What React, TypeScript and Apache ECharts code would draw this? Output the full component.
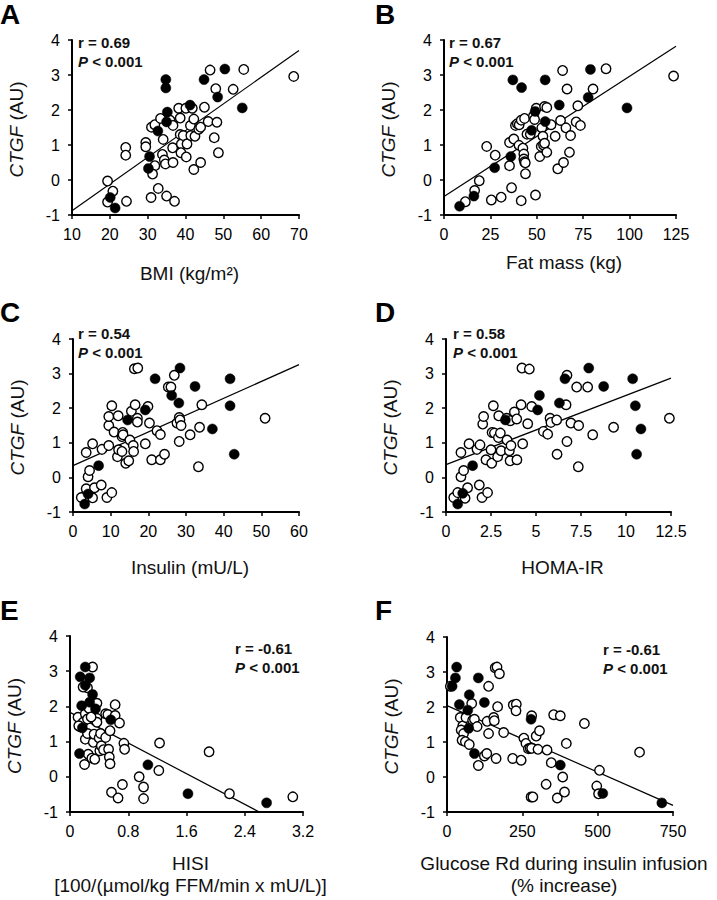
import React, { useEffect, useRef } from 'react';
import * as echarts from 'echarts';

const FONT = '"Liberation Sans", Arial, Helvetica, sans-serif';

// ---------- Panel A: BMI ----------
const bmiFilled = [[34.8,2.87],[34.8,2.63],[44.9,2.87],[50.4,3.17],[48.5,2.37],[41.2,2.14],[55.0,2.06],[35.2,1.94],[35.0,1.66],[32.7,1.40],[30.5,0.67],[30.2,0.33],[20.1,-0.50],[21.4,-0.80]];
const bmiOpen = [[19.4,-0.03],[19.4,-0.63],[20.8,-0.32],[24.2,0.93],[24.2,0.71],[24.4,-0.61],[29.5,1.07],[29.5,0.95],[31.0,1.51],[31.9,1.58],[31.9,0.41],[31.3,0.17],[30.9,-0.50],[32.8,-0.24],[33.4,1.76],[34.1,1.16],[33.9,0.73],[34.4,0.57],[34.7,0.46],[35.0,-0.46],[35.9,1.71],[36.7,1.56],[36.6,0.92],[36.7,0.50],[37.1,-0.61],[38.2,2.05],[38.6,1.77],[38.6,1.30],[38.9,1.03],[38.8,0.78],[39.4,1.27],[40.1,2.05],[40.2,0.66],[40.4,1.03],[41.3,1.56],[41.8,2.05],[41.4,1.27],[42.2,1.74],[42.5,1.25],[42.2,0.30],[43.5,1.45],[44.0,1.51],[44.0,0.50],[45.0,2.08],[46.0,1.67],[46.5,3.14],[47.6,1.21],[48.0,2.61],[48.3,1.65],[48.7,0.78],[52.6,2.59],[55.4,3.16],[68.6,2.96]];
const bmiFit = [[10,-0.88],[70,3.70]];

// ---------- Panel B: Fat mass ----------
const fatFilled = [[37.1,2.86],[41.8,2.64],[54.5,2.86],[78.9,3.16],[77.7,2.36],[62.1,2.14],[98.6,2.06],[49.1,1.96],[54.5,1.67],[47.2,1.42],[36.0,0.67],[27.3,0.35],[16.1,-0.46],[8.4,-0.75]];
const fatOpen = [[11.5,-0.62],[16.5,-0.30],[19.0,-0.02],[23.0,0.96],[27.6,0.71],[25.5,-0.57],[30.8,-0.49],[35.3,0.41],[35.3,1.07],[36.4,-0.22],[37.6,1.17],[38.5,1.56],[39.5,1.61],[40.5,1.58],[40.4,0.99],[41.6,1.71],[41.6,-0.59],[42.5,0.91],[43.0,0.74],[43.0,0.60],[43.4,0.52],[43.8,0.49],[43.9,0.18],[43.4,1.76],[44.7,1.31],[46.5,1.31],[48.2,1.83],[48.8,1.73],[49.7,2.05],[49.3,-0.43],[51.6,0.67],[52.4,0.96],[52.7,1.49],[53.3,1.25],[53.6,1.00],[54.2,1.05],[54.2,2.10],[55.4,2.07],[55.4,0.79],[57.7,1.58],[59.9,1.25],[61.3,0.32],[62.8,1.70],[63.9,3.13],[64.4,0.50],[65.7,1.49],[66.3,2.60],[67.6,0.79],[68.2,1.27],[71.2,1.66],[72.1,2.12],[73.5,1.56],[80.3,2.60],[87.3,3.18],[123.7,2.97]];
const fatFit = [[0,-0.47],[125,3.82]];

// ---------- Panel C: Insulin ----------
const insFilled = [[28.4,3.16],[21.8,2.85],[32.4,2.63],[41.7,2.85],[26.2,2.37],[28.1,2.15],[41.7,2.07],[19.2,1.95],[14.5,1.66],[37.0,1.40],[42.8,0.67],[6.8,0.34],[4.0,-0.48],[3.1,-0.77]];
const insOpen = [[2.2,-0.58],[3.5,-0.33],[4.0,0.02],[4.4,0.20],[3.5,0.72],[5.2,0.97],[5.2,-0.59],[5.7,-0.30],[7.5,-0.22],[7.7,0.81],[9.0,-0.58],[9.5,1.50],[9.5,1.76],[9.5,0.92],[10.3,-0.44],[10.3,2.07],[10.9,1.31],[11.8,0.60],[12.0,1.78],[12.1,0.80],[13.0,0.75],[13.0,1.18],[13.2,1.30],[13.3,1.23],[14.0,0.41],[14.8,0.48],[15.1,1.08],[15.5,1.91],[16.0,0.92],[16.1,0.75],[16.5,2.10],[16.3,3.14],[17.2,3.16],[17.1,1.71],[17.1,1.60],[19.2,0.97],[19.9,2.05],[20.3,1.57],[20.9,0.51],[22.3,1.35],[23.2,1.24],[23.2,0.51],[24.3,0.67],[25.3,2.61],[26.0,2.61],[26.9,2.95],[27.6,1.57],[28.2,1.73],[28.2,1.04],[28.4,1.66],[28.7,1.50],[31.1,1.23],[33.3,0.31],[33.6,1.45],[34.2,2.10],[51.0,1.71]];
const insFit = [[0,0.34],[60,3.26]];

// ---------- Panel D: HOMA-IR ----------
const homaFilled = [[7.93,3.16],[6.61,2.85],[8.76,2.63],[10.37,2.85],[5.19,2.37],[6.30,2.15],[10.52,2.07],[5.09,1.95],[3.30,1.66],[10.83,1.40],[10.59,0.67],[1.48,0.34],[0.93,-0.46],[0.65,-0.77]];
const homaOpen = [[0.43,-0.58],[0.65,-0.44],[0.83,0.02],[0.98,0.20],[0.83,0.72],[1.06,-0.60],[1.20,-0.30],[1.28,0.97],[1.72,0.81],[1.89,0.94],[1.85,-0.22],[2.00,-0.58],[2.04,1.54],[2.09,1.76],[2.22,0.51],[2.31,-0.44],[2.50,0.80],[2.54,0.41],[2.56,1.30],[2.63,2.07],[2.69,1.28],[2.87,0.60],[2.91,1.15],[2.93,1.78],[3.02,1.28],[3.06,0.77],[3.37,1.71],[3.39,1.08],[3.52,0.77],[3.56,0.48],[3.57,1.64],[3.61,0.92],[3.80,1.89],[3.93,1.69],[3.94,0.51],[4.17,2.10],[4.22,3.16],[4.26,0.97],[4.63,3.13],[4.54,1.55],[4.76,2.05],[5.41,1.33],[5.65,1.25],[5.78,1.71],[5.83,1.59],[6.15,1.66],[6.17,0.67],[6.67,2.10],[6.72,2.95],[6.72,1.04],[6.94,1.57],[7.26,2.61],[7.37,1.50],[7.35,0.31],[7.87,2.61],[8.15,1.23],[9.31,1.45],[12.41,1.71]];
const homaFit = [[0,0.37],[12.5,2.87]];

// ---------- Panel E: HISI ----------
const hisiFilled = [[0.21,3.12],[0.14,2.84],[0.27,2.81],[0.21,2.60],[0.31,2.34],[0.27,2.12],[0.16,2.02],[0.35,1.93],[0.56,1.62],[0.17,1.39],[0.13,0.66],[1.07,0.34],[1.62,-0.48],[2.70,-0.74]];
const hisiOpen = [[0.31,3.12],[0.24,2.53],[0.18,2.55],[0.11,1.69],[0.14,1.42],[0.18,1.55],[0.21,1.79],[0.24,1.64],[0.21,1.07],[0.24,1.23],[0.20,0.35],[0.25,0.64],[0.30,0.53],[0.32,0.98],[0.33,1.21],[0.34,0.50],[0.37,1.66],[0.37,2.09],[0.37,1.55],[0.40,1.10],[0.41,0.74],[0.42,1.23],[0.43,0.88],[0.46,0.77],[0.49,1.79],[0.49,1.12],[0.52,1.77],[0.53,0.78],[0.54,0.56],[0.55,0.37],[0.55,1.31],[0.62,2.05],[0.62,1.74],[0.68,1.53],[0.57,-0.44],[0.66,-0.60],[0.72,-0.22],[0.74,0.95],[0.75,0.78],[0.95,0.00],[1.01,-0.29],[1.01,-0.62],[1.23,0.96],[1.22,0.18],[1.91,0.71],[2.19,-0.48],[3.06,-0.57],[0.26,1.95],[0.29,1.70],[0.12,1.45]];
const hisiFit = [[0,1.83],[2.6,-1.0]];

// ---------- Panel F: Glucose Rd ----------
const rdFilled = [[32,3.14],[17,2.59],[28,2.83],[104,2.83],[74,2.35],[124,2.13],[41,2.07],[69,1.91],[279,1.65],[72,1.39],[91,0.67],[376,0.34],[517,-0.47],[713,-0.74]];
const rdOpen = [[11,2.59],[44,1.70],[52,1.46],[47,1.34],[55,1.24],[50,1.05],[61,1.01],[74,0.93],[63,1.70],[82,2.10],[85,1.62],[91,1.65],[100,1.44],[104,0.33],[124,0.60],[132,0.67],[133,1.59],[138,2.59],[138,1.24],[155,1.70],[157,1.61],[160,3.12],[166,3.14],[174,2.95],[163,0.53],[168,2.01],[188,1.27],[218,0.53],[220,2.06],[230,2.08],[229,1.89],[246,0.48],[255,1.11],[262,0.96],[270,0.81],[276,0.82],[279,-0.57],[285,-0.57],[281,1.75],[281,0.82],[296,1.17],[302,0.79],[307,1.32],[329,-0.21],[332,0.77],[346,0.41],[354,1.78],[366,-0.60],[376,1.75],[384,0.00],[390,-0.43],[396,0.96],[456,1.53],[497,-0.26],[503,-0.48],[506,0.19],[639,0.71]];
const rdFit = [[0,2.04],[750,-0.81]];

// ---------- Labels ----------
const panelLetters = ['A', 'B', 'C', 'D', 'E', 'F'];
const rTexts = ['r = 0.69', 'r = 0.67', 'r = 0.54', 'r = 0.58', 'r = -0.61', 'r = -0.61'];
const pText = '< 0.001';
const xTitles = [
  ['BMI (kg/m²)'],
  ['Fat mass (kg)'],
  ['Insulin (mU/L)'],
  ['HOMA-IR'],
  ['HISI', '[100/(µmol/kg FFM/min x mU/L)]'],
  ['Glucose Rd during insulin infusion', '(% increase)'],
];
const xMins = [10, 0, 0, 0, 0, 0];
const xMaxs = [70, 125, 60, 12.5, 3.2, 750];
const xSteps = [10, 25, 10, 2.5, 0.8, 250];
const yMin = -1;
const yMax = 4;
const yStep = 1;

const filledSets = [bmiFilled, fatFilled, insFilled, homaFilled, hisiFilled, rdFilled];
const openSets = [bmiOpen, fatOpen, insOpen, homaOpen, hisiOpen, rdOpen];
const fitSets = [bmiFit, fatFit, insFit, homaFit, hisiFit, rdFit];

// layout (pixel positions of plot areas)
const grids = [
  { left: 72, top: 40, width: 227, height: 175 },
  { left: 444, top: 40, width: 232, height: 175 },
  { left: 73, top: 339, width: 226, height: 173 },
  { left: 446, top: 339, width: 225, height: 173 },
  { left: 70, top: 636, width: 233, height: 176 },
  { left: 447, top: 637, width: 226, height: 175 },
];
const letterPos = [[0, 0], [375, 0], [0, 298], [375, 298], [0, 596], [375, 596]];
const statPos = [[78, 42], [449, 42], [78, 333], [453, 333], [235, 648], [603, 649]];
const xTitleY = [273, 262, 567, 567, 863, 863];

export default function App() {
  const ref = useRef<HTMLDivElement>(null);
  useEffect(() => {
    if (!ref.current) return;
    const chart = echarts.init(ref.current, null, { renderer: 'svg' });
    const axisCommon = {
      type: 'value',
      splitLine: { show: false },
      axisLine: { show: true, onZero: false, lineStyle: { color: '#000', width: 2 } },
      axisTick: { show: true, inside: false, length: 4, lineStyle: { color: '#000', width: 1.5 } },
    };
    const fmt = (v: number) => String(Math.round(v * 100) / 100);
    const xAxis = grids.map((g, i) => ({
      ...axisCommon,
      gridIndex: i,
      min: xMins[i],
      max: xMaxs[i],
      interval: xSteps[i],
      axisLabel: { fontSize: 16, color: '#000', fontFamily: FONT, margin: 11, formatter: fmt },
    }));
    const yAxis = grids.map((g, i) => ({
      ...axisCommon,
      gridIndex: i,
      min: yMin,
      max: yMax,
      interval: yStep,
      axisLabel: { fontSize: 16, color: '#000', fontFamily: FONT, margin: 12, formatter: fmt },
    }));
    const series: any[] = [];
    grids.forEach((g, i) => {
      series.push({
        type: 'line', xAxisIndex: i, yAxisIndex: i, data: fitSets[i], symbol: 'none',
        lineStyle: { color: '#000', width: 1.2 }, z: 1, silent: true,
      });
      series.push({
        type: 'scatter', xAxisIndex: i, yAxisIndex: i, data: openSets[i], symbol: 'circle', symbolSize: 9.5,
        itemStyle: { color: '#fff', borderColor: '#000', borderWidth: 1.4, opacity: 1 }, z: 2,
      });
      series.push({
        type: 'scatter', xAxisIndex: i, yAxisIndex: i, data: filledSets[i], symbol: 'circle', symbolSize: 10,
        itemStyle: { color: '#000', borderColor: '#000', borderWidth: 0.5, opacity: 1 }, z: 3,
      });
    });
    const graphics: any[] = [];
    grids.forEach((g, i) => {
      graphics.push({
        type: 'text', x: letterPos[i][0], y: letterPos[i][1],
        style: { text: panelLetters[i], font: `bold 28px ${FONT}`, fill: '#000', align: 'left', verticalAlign: 'top' },
      });
      graphics.push({
        type: 'text', x: statPos[i][0], y: statPos[i][1],
        style: { text: rTexts[i], font: `bold 15px ${FONT}`, fill: '#111', align: 'left', verticalAlign: 'middle' },
      });
      graphics.push({
        type: 'text', x: statPos[i][0], y: statPos[i][1] + 19,
        style: {
          text: '{i|P} ' + pText, font: `bold 15px ${FONT}`, fill: '#111', align: 'left', verticalAlign: 'middle',
          rich: { i: { fontStyle: 'italic', fontWeight: 'bold', fontSize: 15, fontFamily: FONT, fill: '#111' } },
        },
      });
      graphics.push({
        type: 'text', x: g.left - 56, y: g.top + g.height / 2 + 2, rotation: Math.PI / 2,
        style: {
          text: '{i|CTGF} (AU)', font: `19px ${FONT}`, fill: '#111', align: 'center', verticalAlign: 'middle',
          rich: { i: { fontStyle: 'italic', fontSize: 19, fontFamily: FONT, fill: '#111' } },
        },
      });
      xTitles[i].forEach((t, k) => {
        graphics.push({
          type: 'text', x: g.left + g.width / 2 + 4, y: xTitleY[i] + k * 22,
          style: { text: t, font: `19px ${FONT}`, fill: '#111', align: 'center', verticalAlign: 'middle' },
        });
      });
    });
    chart.setOption({
      animation: false,
      backgroundColor: '#fff',
      grid: grids.map((g) => ({ ...g, containLabel: false })),
      xAxis,
      yAxis,
      series,
      graphic: graphics,
    });
    return () => chart.dispose();
  }, []);
  return <div ref={ref} style={{ position: 'fixed', left: 0, top: 0, width: 717, height: 900, background: '#fff' }} />;
}
